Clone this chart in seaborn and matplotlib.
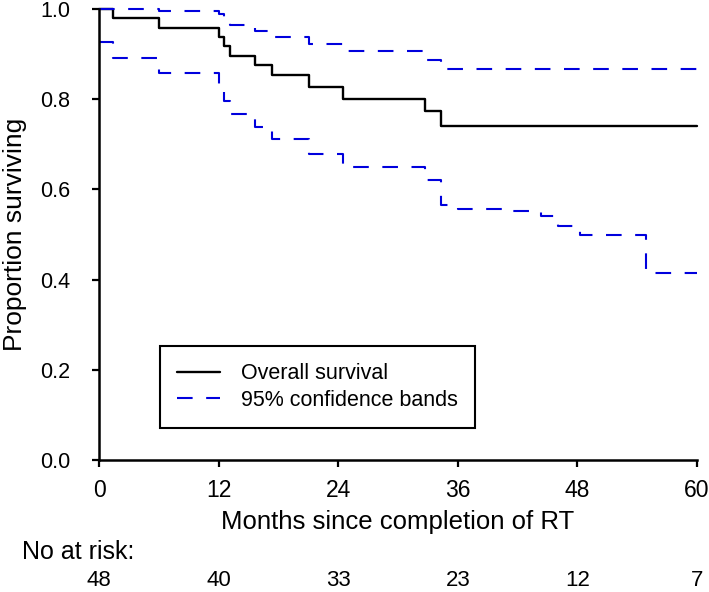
import numpy as np
import pandas as pd
import matplotlib
matplotlib.use("Agg")
import matplotlib.pyplot as plt
import seaborn as sns

# ---------------- DATA ----------------
surv_months = [0, 1.4, 6.0, 12.0, 12.5, 13.1, 15.7, 17.4, 21.1, 24.5, 32.7, 34.3, 60]
surv = [1.0, 0.979, 0.958, 0.938, 0.917, 0.896, 0.875, 0.854, 0.827, 0.800, 0.773, 0.740, 0.740]

upper_months = [0, 1.4, 6.0, 12.0, 12.5, 13.1, 15.7, 17.4, 21.1, 24.5, 32.7, 34.3, 60]
upper = [1.0, 0.999, 0.996, 0.990, 0.978, 0.965, 0.951, 0.938, 0.923, 0.906, 0.887, 0.866, 0.866]

lower_months = [0, 1.4, 6.0, 12.0, 12.5, 13.1, 15.7, 17.4, 21.1, 24.5, 32.7, 34.3,
                36.0, 40.4, 44.3, 46.1, 48.3, 54.9, 60]
lower = [0.926, 0.891, 0.859, 0.825, 0.797, 0.767, 0.739, 0.712, 0.678, 0.649, 0.620, 0.565,
         0.557, 0.552, 0.540, 0.518, 0.498, 0.415, 0.415]

risk_months = [0, 12, 24, 36, 48, 60]
at_risk = [48, 40, 33, 23, 12, 7]
y_ticks = [0.0, 0.2, 0.4, 0.6, 0.8, 1.0]

# ---------------- STYLE ----------------
sns.set_style("ticks")
plt.rcParams["font.family"] = ["Liberation Sans", "DejaVu Sans"]
plt.rcParams["text.color"] = "black"
plt.rcParams["axes.labelcolor"] = "black"
plt.rcParams["xtick.color"] = "black"
plt.rcParams["ytick.color"] = "black"

fig = plt.figure(figsize=(7.09, 5.92), dpi=100)
ax = fig.add_axes([99 / 709, 1 - 460 / 592, 598 / 709, 451 / 592])

surv_df = pd.DataFrame({"Months": surv_months, "Proportion": surv})
upper_df = pd.DataFrame({"Months": upper_months, "Proportion": upper})
lower_df = pd.DataFrame({"Months": lower_months, "Proportion": lower})

sns.lineplot(data=surv_df, x="Months", y="Proportion", ax=ax, color="black",
             lw=1.7, drawstyle="steps-post", estimator=None, label="Overall survival")
sns.lineplot(data=upper_df, x="Months", y="Proportion", ax=ax, color="#0000dd",
             lw=1.5, drawstyle="steps-post", estimator=None,
             label="95% confidence bands")
sns.lineplot(data=lower_df, x="Months", y="Proportion", ax=ax, color="#0000dd",
             lw=1.5, drawstyle="steps-post", estimator=None)
for line in ax.lines:
    line.set_clip_on(False)
for line in ax.lines[1:]:
    line.set_dashes((7.5, 6.5))

ax.set_xlim(0, 60)
ax.set_ylim(0, 1.0)
ax.set_xticks(risk_months)
ax.set_yticks(y_ticks)
ax.set_yticklabels([f"{v:.1f}" for v in y_ticks], fontsize=15.5)
ax.set_xticklabels([str(m) for m in risk_months], fontsize=16.5)
ax.tick_params(axis="both", direction="out", length=5, width=1.6)
ax.tick_params(axis="y", pad=15.5)
ax.tick_params(axis="x", pad=9)
for s in ["left", "bottom"]:
    ax.spines[s].set_linewidth(1.8)
    ax.spines[s].set_color("black")
sns.despine(ax=ax)

ax.set_xlabel("Months since completion of RT", fontsize=18.5)
ax.xaxis.set_label_coords(0.5, (460 - 510) / 451)
ax.set_ylabel("Proportion surviving", fontsize=19)
ax.yaxis.set_label_coords((27 - 99) / 598, 0.5)

leg = ax.legend(loc="lower left", bbox_to_anchor=(0.102, 0.071), borderaxespad=0,
                fontsize=15.5, frameon=True, fancybox=False, handlelength=2.0,
                handletextpad=0.95, borderpad=0.8, labelspacing=0.25)
leg.get_frame().set_edgecolor("black")
leg.get_frame().set_linewidth(1.5)
leg.get_frame().set_alpha(1)

# number at risk table
fig.text(22 / 709, 1 - 559 / 592, "No at risk:", fontsize=18, ha="left", va="baseline")
trans = matplotlib.transforms.blended_transform_factory(ax.transData, fig.transFigure)
for m, n in zip(risk_months, at_risk):
    ax.text(m, 1 - 586 / 592, str(n), transform=trans, fontsize=16,
            ha="center", va="baseline", clip_on=False)

fig.savefig("out.png", dpi=100)
